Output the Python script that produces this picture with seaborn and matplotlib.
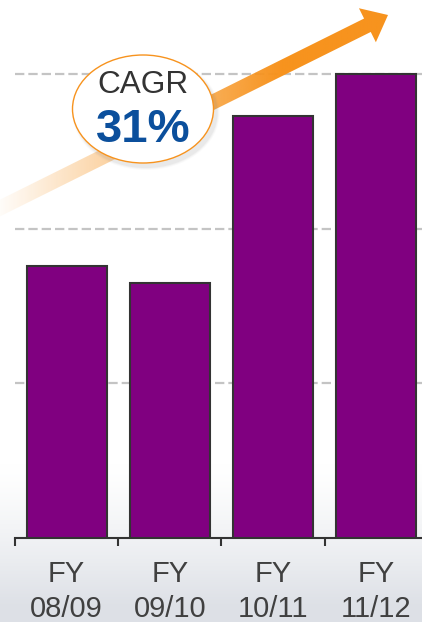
import numpy as np
import matplotlib
matplotlib.use("Agg")
import matplotlib.pyplot as plt
from matplotlib.patches import Ellipse, Polygon
import seaborn as sns

# Revenue by fiscal year (index units, gridline every 100)
fiscal_years = ["08/09", "09/10", "10/11", "11/12"]
revenue = [176, 165, 273, 300]
tick_labels = [f"FY\n{fy}" for fy in fiscal_years]
grid_values = [100, 200, 300]
cagr_text = "31%"

sns.set_theme(style="white")
plt.rcParams["font.family"] = ["Liberation Sans", "DejaVu Sans"]

W, H = 422, 622
fig = plt.figure(figsize=(W / 100, H / 100), dpi=100)
fig.patch.set_facecolor("white")

# soft sky band at the bottom of the slide
bg = fig.add_axes([0, 0, 1, 1])
bg.set_axis_off()
yy = np.linspace(0, 1, 400)[:, None]
t = np.clip((yy * H - 465) / 140, 0, 1) ** 1.3
top = np.array([1.0, 1.0, 1.0])
bot = np.array([0.87, 0.882, 0.905])
grad = top + (bot - top) * t[..., None]
grad = np.repeat(grad, 2, axis=1)
bg.imshow(grad, extent=[0, 1, 1, 0], aspect="auto")
bg.set_xlim(0, 1)
bg.set_ylim(1, 0)

# main bar chart
ax = fig.add_axes([15 / W, 84 / H, 412.8 / W, 538 / H])
ax.patch.set_alpha(0)
df_x = list(range(len(revenue)))
sns.barplot(x=tick_labels, y=revenue, color="#800080", saturation=1,
            edgecolor="#333333", linewidth=1.5, width=0.775, ax=ax, zorder=3)
ax.set_xlim(-0.5, 3.5)
ax.set_ylim(0, 538 / 1.5467)
for g in grid_values:
    ax.axhline(g, color="#c4c4c4", lw=1.6, ls=(0, (4.2, 1.8)), zorder=1)
for s in ["left", "right", "top"]:
    ax.spines[s].set_visible(False)
ax.spines["bottom"].set_color("#333333")
ax.spines["bottom"].set_linewidth(1.5)
ax.set_yticks([])
ax.set_xticks(df_x)
ax.set_xticklabels(tick_labels, fontsize=21, color="#404040", linespacing=1.3)
ax.set_xticks(np.arange(-0.5, 3.6, 1.0), minor=True)
ax.tick_params(axis="x", which="major", length=0, pad=16)
ax.tick_params(axis="x", which="minor", length=6, width=1.5, color="#333333",
               direction="out", bottom=True)
ax.set_xlabel("")
ax.set_ylabel("")

# overlay in pixel coordinates for the growth arrow and the CAGR badge
ov = fig.add_axes([0, 0, 1, 1])
ov.set_xlim(0, W)
ov.set_ylim(H, 0)
ov.set_axis_off()
ov.patch.set_alpha(0)

start = np.array([-10.0, 213.0])
tip = np.array([388.0, 15.0])
u = (tip - start) / np.linalg.norm(tip - start)
n = np.array([-u[1], u[0]])
hw, head_hw, head_len = 7.5, 19.0, 23.0
base = tip - head_len * u
pts = [start + n * hw, base + n * hw, base + n * head_hw, tip,
       base - n * head_hw, base - n * hw, start - n * hw]
arrow = Polygon(pts, closed=True, facecolor="none", edgecolor="none")
ov.add_patch(arrow)
xs = np.linspace(0, W, 500)
alpha = np.clip(0.03 + xs / 290, 0, 1)
rgba = np.zeros((2, xs.size, 4))
rgba[..., 0] = 0xF7 / 255
rgba[..., 1] = 0x93 / 255
rgba[..., 2] = 0x1E / 255
rgba[..., 3] = alpha
im = ov.imshow(rgba, extent=[0, W, 260, 0], aspect="auto", zorder=2)
im.set_clip_path(arrow)
ov.set_xlim(0, W)
ov.set_ylim(H, 0)

cx, cy, ew, eh = 143, 109, 141, 108
for k, a in zip([6, 4, 2], [0.04, 0.06, 0.08]):
    ov.add_patch(Ellipse((cx + 3, cy + 4), ew + k, eh + k, facecolor="#808080",
                         edgecolor="none", alpha=a, zorder=3))
ov.add_patch(Ellipse((cx, cy), ew, eh, facecolor="white", edgecolor="#f7931e",
                     lw=1.0, zorder=4))
ov.text(cx, 93, "CAGR", ha="center", va="baseline", fontsize=22.7,
        color="#333333", zorder=5)
ov.text(cx, 142, cagr_text, ha="center", va="baseline", fontsize=34,
        fontweight="bold", color="#0b4f9c", zorder=5)

fig.savefig("out.png", dpi=100)
